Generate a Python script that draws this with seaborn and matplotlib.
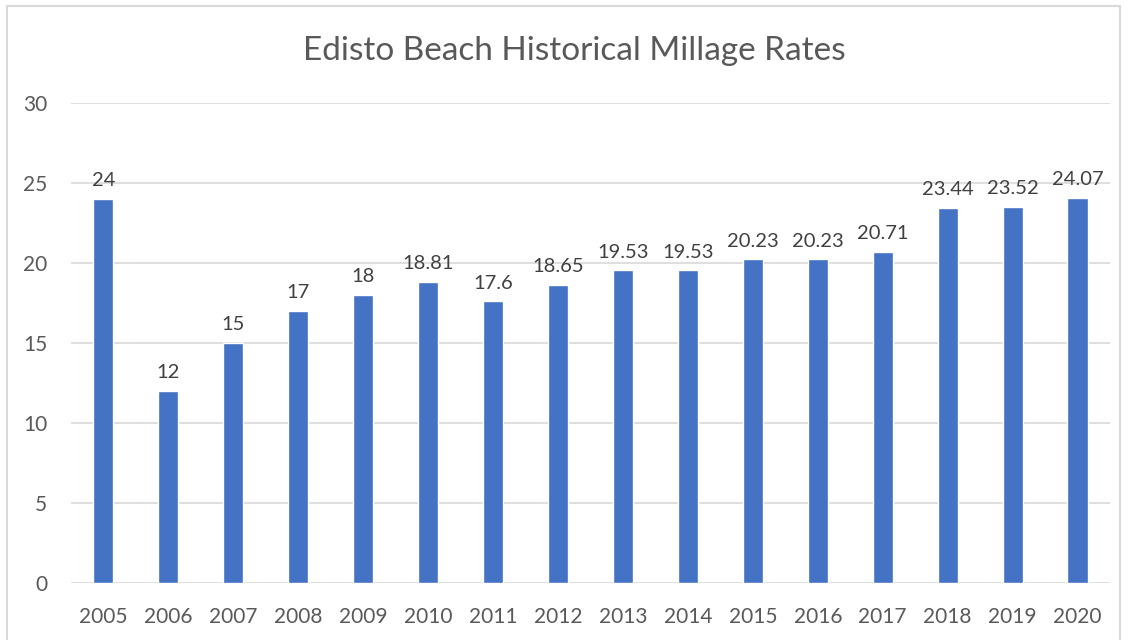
import numpy as np
import pandas as pd
import seaborn as sns
import matplotlib.pyplot as plt
from matplotlib.patches import Rectangle

years = ["2005", "2006", "2007", "2008", "2009", "2010", "2011", "2012",
         "2013", "2014", "2015", "2016", "2017", "2018", "2019", "2020"]
rates = [24, 12, 15, 17, 18, 18.81, 17.6, 18.65,
         19.53, 19.53, 20.23, 20.23, 20.71, 23.44, 23.52, 24.07]
rate_labels = ["24", "12", "15", "17", "18", "18.81", "17.6", "18.65",
               "19.53", "19.53", "20.23", "20.23", "20.71", "23.44", "23.52", "24.07"]

df = pd.DataFrame({"year": years, "rate": rates})

sns.set_style("white")
plt.rcParams['font.family'] = ['Lato', 'DejaVu Sans']

fig = plt.figure(figsize=(11.3, 6.4), dpi=100)
ax = fig.add_axes([0.0628, 0.0891, 0.9195, 0.75])

sns.barplot(data=df, x="year", y="rate", color="#4472C4", saturation=1,
            width=0.31, ax=ax)

for i, (v, lab) in enumerate(zip(rates, rate_labels)):
    ax.text(i, v + 0.6, lab, ha="center", va="bottom", fontsize=14.5, color="#404040")

ax.set_ylim(0, 30)
ax.set_xlim(-0.5, len(years) - 0.5)
ax.set_yticks(range(0, 31, 5))
ax.yaxis.grid(True, color="#D9D9D9", linewidth=1.2)
ax.set_axisbelow(True)
for s in ax.spines.values():
    s.set_visible(False)
ax.set_xlabel("")
ax.set_ylabel("")
ax.tick_params(axis="both", length=0, labelsize=15, labelcolor="#595959")
ax.tick_params(axis="y", pad=17)
ax.tick_params(axis="x", pad=17)

fig.text(0.508, 0.921, "Edisto Beach Historical Millage Rates", ha="center",
         va="center", fontsize=24, color="#595959")

fig.patches.append(Rectangle((7 / 1130, -0.01), 1113 / 1130, 1 - 6 / 640 + 0.01,
                             transform=fig.transFigure, fill=False,
                             edgecolor="#D9D9D9", linewidth=1.5))

plt.savefig("out.png", dpi=100)
